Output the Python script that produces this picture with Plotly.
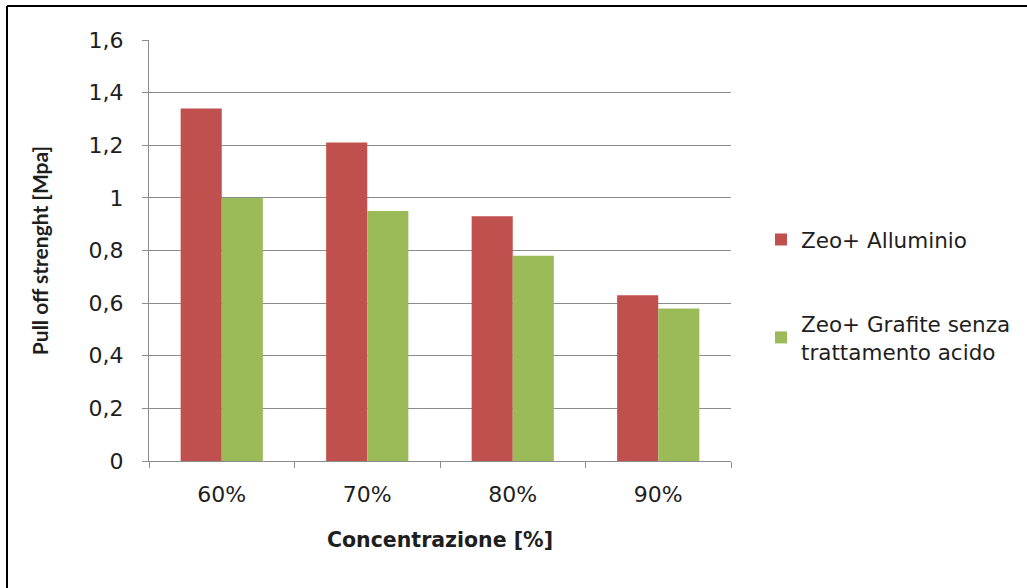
import plotly.graph_objects as go

# Pull-off strength by concentration
categories = ["60%", "70%", "80%", "90%"]
alluminio = [1.34, 1.21, 0.93, 0.63]
grafite = [1.00, 0.95, 0.78, 0.58]
series_names = ["Zeo+ Alluminio", "Zeo+ Grafite senza<br>trattamento acido"]
y_ticks = [0, 0.2, 0.4, 0.6, 0.8, 1.0, 1.2, 1.4, 1.6]
y_tick_labels = ["0", "0,2", "0,4", "0,6", "0,8", "1", "1,2", "1,4", "1,6"]

FONT = "'DejaVu Sans', sans-serif"
TEXT = "#1e1e1e"
GRID = "#8c8c8c"

W, H = 1027, 588
L, R, T, B = 149, 296, 40, 127

fig = go.Figure()
fig.add_trace(go.Bar(x=categories, y=alluminio, name=series_names[0],
                     marker=dict(color="#C0504D", line=dict(width=0)),
                     legendgroup="a"))
fig.add_trace(go.Bar(x=categories, y=grafite, name=series_names[1],
                     marker=dict(color="#9BBB59", line=dict(width=0)),
                     legendgroup="b"))

pw = W - L - R
ph = H - T - B


def px_x(x):
    return (x - L) / pw


def px_y(y):
    return (H - B - y) / ph


fig.update_layout(
    width=W, height=H,
    margin=dict(l=L, r=R, t=T, b=B, pad=0, autoexpand=False),
    paper_bgcolor="white", plot_bgcolor="white",
    barmode="group", bargap=0.435, bargroupgap=0,
    font=dict(family=FONT, size=22, color=TEXT),
    showlegend=True,
    legend=dict(xref="container", yref="container",
                x=761 / W, y=1 - 219 / H, xanchor="left", yanchor="top",
                font=dict(family=FONT, size=21.5, color=TEXT),
                tracegroupgap=53, itemwidth=30, bgcolor="rgba(0,0,0,0)"),
    xaxis=dict(
        type="category", showline=True, linecolor=GRID, linewidth=1,
        ticks="outside", ticklen=6, tickcolor=GRID, tickson="boundaries",
        showgrid=False, tickfont=dict(size=22), ticklabelstandoff=14,
        title=dict(text="<b>Concentrazione [%]</b>",
                   font=dict(family=FONT, size=20.5), standoff=26),
        fixedrange=True,
    ),
    yaxis=dict(
        range=[0, 1.6], tickvals=y_ticks, ticktext=y_tick_labels,
        showline=True, linecolor=GRID, linewidth=1,
        ticks="outside", ticklen=6, tickcolor=GRID,
        showgrid=True, gridcolor=GRID, gridwidth=1, zeroline=False,
        tickfont=dict(size=22), ticklabelstandoff=14,
        title=dict(text="<b>Pull off strenght [Mpa]</b>",
                   font=dict(family="Lato, sans-serif", size=21), standoff=34),
        fixedrange=True,
    ),
    shapes=[
        dict(type="line", xref="paper", yref="paper",
             x0=px_x(7), x1=px_x(W + 5), y0=px_y(6), y1=px_y(6),
             line=dict(color="black", width=2)),
        dict(type="line", xref="paper", yref="paper",
             x0=px_x(7), x1=px_x(7), y0=px_y(6), y1=px_y(H + 5),
             line=dict(color="black", width=2)),
    ],
)

fig.write_html("out.html")
